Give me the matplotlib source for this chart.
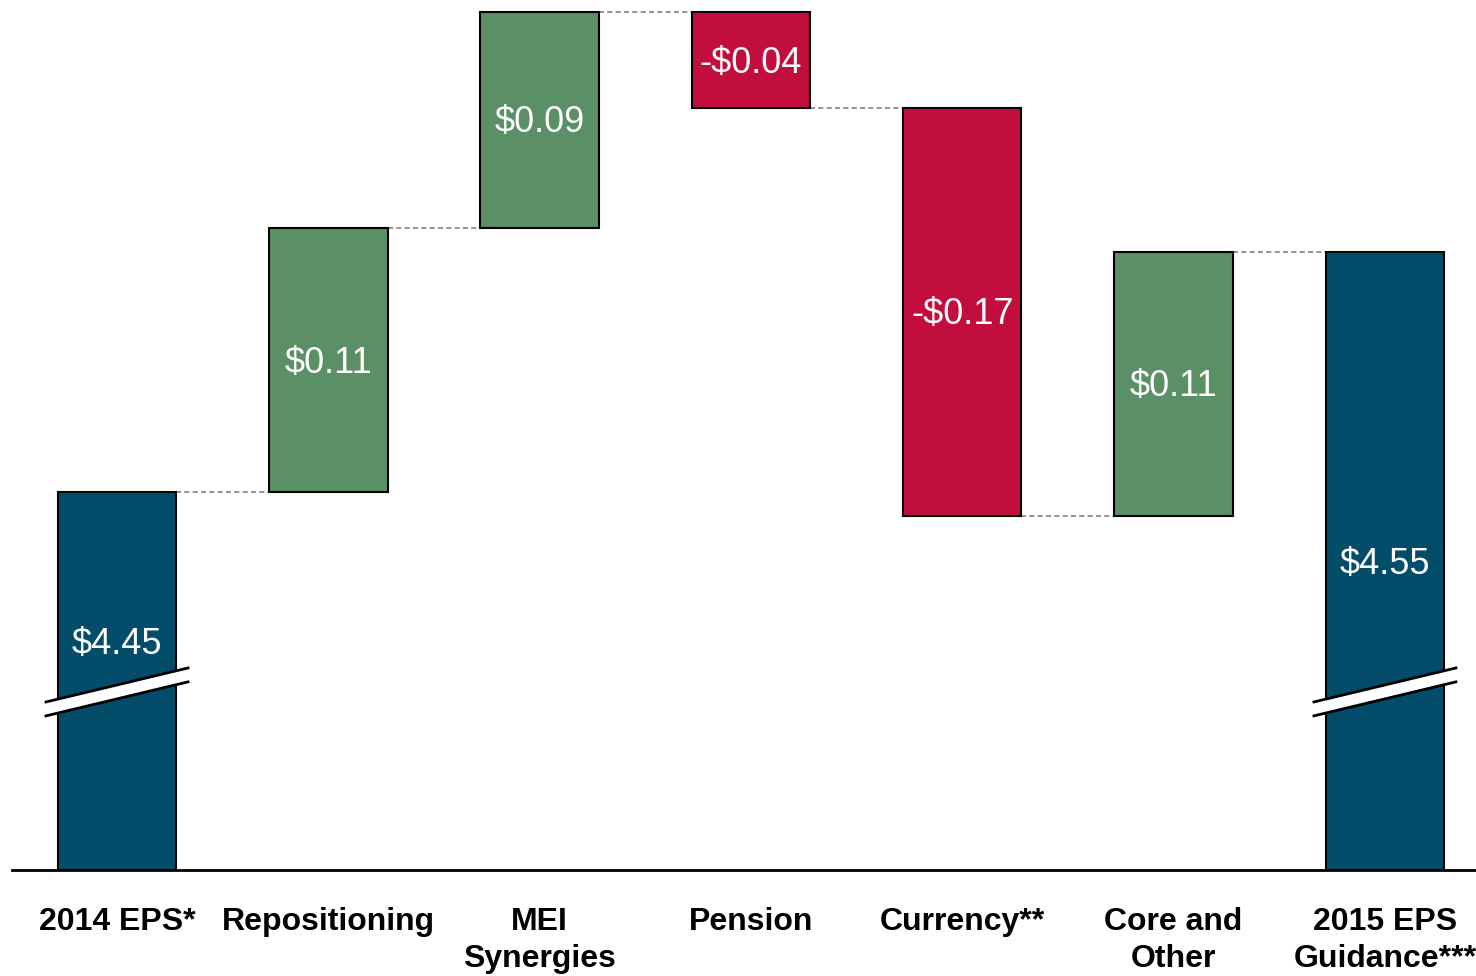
import matplotlib
matplotlib.use("Agg")
import matplotlib.pyplot as plt
import matplotlib.transforms as mtransforms
import numpy as np

categories = ["2014 EPS*", "Repositioning", "MEI\nSynergies", "Pension",
              "Currency**", "Core and\nOther", "2015 EPS\nGuidance***"]
start_value = 4.45
changes = [0.11, 0.09, -0.04, -0.17, 0.11]
end_value = 4.55
value_labels = ["$4.45", "$0.11", "$0.09", "-$0.04", "-$0.17", "$0.11", "$4.55"]

C_TOTAL = "#034D6B"
C_UP = "#5B9066"
C_DOWN = "#C20E3C"

ymin, ymax = 4.2925, 4.655

fig = plt.figure(figsize=(14.76, 9.76), dpi=100)
ax = fig.add_axes([12 / 1476, (976 - 870) / 976, 1 - 12 / 1476, 870 / 976])
ax.set_xlim(-0.497, 6.431)
ax.set_ylim(ymin, ymax)

width = 0.56
x = np.arange(len(categories))

bottoms, heights, colors = [], [], []
bottoms.append(ymin); heights.append(start_value - ymin); colors.append(C_TOTAL)
level = start_value
levels = [start_value]
for c in changes:
    new = level + c
    bottoms.append(min(level, new)); heights.append(abs(c))
    colors.append(C_UP if c > 0 else C_DOWN)
    level = new
    levels.append(level)
bottoms.append(ymin); heights.append(end_value - ymin); colors.append(C_TOTAL)

ax.bar(x, heights, bottom=bottoms, width=width, color=colors,
       edgecolor="black", linewidth=1.5, zorder=2)

for i in range(len(levels)):
    ax.plot([x[i] + width / 2, x[i + 1] - width / 2], [levels[i], levels[i]],
            color="#808080", linestyle=(0, (3, 2)), linewidth=1.2, zorder=1)

shift_down = mtransforms.offset_copy(ax.transData, fig=fig, x=0, y=-3, units="dots")
for i, lab in enumerate(value_labels):
    if i == 0:
        yy = 4.3875
    else:
        yy = bottoms[i] + heights[i] / 2
    ax.text(x[i], yy, lab, ha="center", va="center", color="white",
            fontsize=26, family=["Liberation Sans", "DejaVu Sans"], zorder=5,
            transform=shift_down)

brk_y = 4.3667
half_w = 0.336
rise = 0.01417
gap = 0.0029
for i in (0, len(categories) - 1):
    xs = np.array([x[i] - half_w, x[i] + half_w])
    yc = np.array([brk_y - rise / 2, brk_y + rise / 2])
    poly_x = [xs[0], xs[1], xs[1], xs[0]]
    poly_y = [yc[0] + gap, yc[1] + gap, yc[1] - gap, yc[0] - gap]
    ax.fill(poly_x, poly_y, color="white", zorder=6, clip_on=False)
    ax.plot(xs, yc + gap, color="black", linewidth=2, zorder=7, clip_on=False)
    ax.plot(xs, yc - gap, color="black", linewidth=2, zorder=7, clip_on=False)

for i, cat in enumerate(categories):
    ax.text(x[i], -0.042, cat, transform=ax.get_xaxis_transform(),
            ha="center", va="top", fontsize=23, fontweight="bold",
            family=["Liberation Sans", "DejaVu Sans"], linespacing=1.32)

for s in ["top", "right", "left"]:
    ax.spines[s].set_visible(False)
ax.spines["bottom"].set_linewidth(2)
ax.spines["bottom"].set_zorder(8)
ax.set_xticks([])
ax.set_yticks([])

fig.savefig("out.png", dpi=100)
